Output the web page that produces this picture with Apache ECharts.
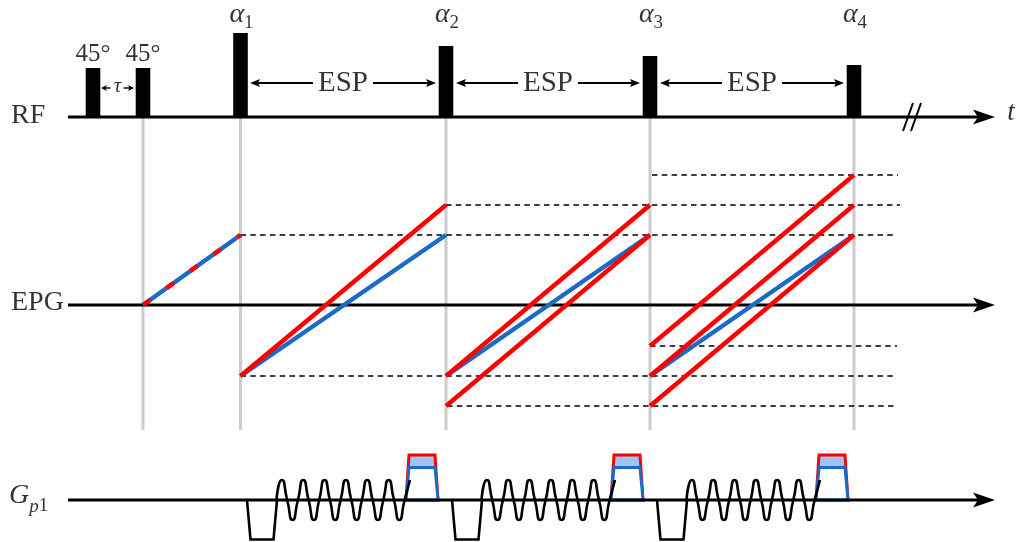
<!DOCTYPE html>
<html>
<head>
<meta charset="utf-8">
<script src="https://cdn.jsdelivr.net/npm/echarts/dist/echarts.min.js"></script>
<style>
html,body{margin:0;padding:0;background:#ffffff;}
#chart{width:1016px;height:542px;}
</style>
</head>
<body>
<div id="chart"></div>
<script>
// ===== Data (diagram coordinates: x = time position, y = vertical position, downward) =====
const rowNames   = ['RF', 'EPG', 'G'];
const rowNameSub = ['', '', 'p1'];
const rowY       = [117, 305, 500];
const axisStartX = 68;
const axisEndX   = 995;
const timeLabel  = 't';

const pulseX        = [93, 143, 240.5, 446, 650, 854];
const pulseTop      = [68, 68, 33, 46, 56, 65];
const pulseLabel    = ['45°', '45°', 'α', 'α', 'α', 'α'];
const pulseLabelSub = ['', '', '1', '2', '3', '4'];

const tauLabel = 'τ';
const tauSpan  = [101, 134];
const tauY     = 88;

const espLabel = 'ESP';
const espY     = 83;
const espSpans = [[250, 436], [456, 640], [660, 844]];

const breakMarks = [[[903, 131], [913, 103]], [[911, 131], [921, 103]]];

const guideX      = [143, 240.5, 446, 650, 854];
const guideBottom = 430;

// EPG paths
const epgFirst = [[143, 305], [240.5, 235]];
const epgBlue = [
  [[240.5, 376], [446, 235]],
  [[446, 376], [650, 235]],
  [[650, 376], [854, 235]]
];
const epgRed = [
  [[240.5, 376], [446, 205]],
  [[446, 376], [650, 205]],
  [[446, 406], [650, 235]],
  [[650, 346], [854, 175]],
  [[650, 376], [854, 205]],
  [[650, 406], [854, 235]]
];
const epgLevels = [ // [y, xStart, xEnd]
  [235, 240.5, 897], [205, 446, 900], [175, 652, 898],
  [376, 240.5, 897], [406, 447, 897], [346, 650, 897]
];

// Gradient waveform (one echo spacing, offsets from lobe start)
const gradLobeStart = [247, 452, 657];
const lobeDX = [0, 3.5, 26.5, 30];
const lobeY  = [500, 539.5, 539.5, 500];
const waveDX = [29.5, 34.8, 40.2, 45.5, 50.9, 56.2, 61.6, 66.9, 72.2, 77.5, 82.9, 88.2, 93.6,
                98.9, 104.3, 109.6, 114.9, 120.2, 125.6, 130.9, 136.3, 141.6, 147.0, 152.3, 157.6, 163.0];
const waveY  = [500, 480, 500, 520, 500, 480, 500, 520, 500, 480, 500, 520, 500,
                480, 500, 520, 500, 480, 500, 520, 500, 480, 500, 520, 500, 480];
const trapDX    = [159, 162, 188, 191];
const trapRedY  = [500, 455, 455, 500];
const trapBlueY = [500, 467.5, 467.5, 500];

// ===== Rendering =====
const SERIF = 'Liberation Serif';
const BLUE = '#1b6ac6', RED = '#ff0000', GRAY = '#cccccc', FILL = '#9dc3ee';
const series = [];
const line = (pts, ls, extra) => series.push(Object.assign({
  type: 'line', data: pts, symbol: 'none', showSymbol: false, silent: true,
  animation: false, lineStyle: ls
}, extra || {}));

function arrowSeries(data, L, W, notch) {
  return {
    type: 'custom', data: data, silent: true, animation: false,
    renderItem: function (params, api) {
      const t = api.coord([api.value(0), api.value(1)]);
      const d = api.value(2);
      return {
        type: 'polygon',
        shape: { points: [[t[0], t[1]], [t[0] - d * L, t[1] - W], [t[0] - d * (L - notch), t[1]], [t[0] - d * L, t[1] + W]] },
        style: { fill: '#000' }
      };
    }
  };
}

// guides
guideX.forEach(x => line([[x, rowY[0]], [x, guideBottom]], { color: GRAY, width: 3 }));
// dashed levels
epgLevels.forEach(([y, a, b]) => line([[a, y], [b, y]], { color: '#000', width: 1.6, type: [5.5, 4.3] }));
// gradient lobes + waves
gradLobeStart.forEach(L => {
  line(lobeDX.map((d, i) => [L + d, lobeY[i]]), { color: '#000', width: 2.6, join: 'miter' });
  line(waveDX.map((d, i) => [L + d, waveY[i]]), { color: '#000', width: 2.6 }, { smooth: 0.7 });
});
const trapShapes = [];
gradLobeStart.forEach(L => {
  trapShapes.push({ pts: trapDX.map((d, i) => [L + d, trapRedY[i]]), fill: FILL, stroke: RED });
  trapShapes.push({ pts: trapDX.map((d, i) => [L + d, trapBlueY[i]]), fill: '#ffffff', stroke: BLUE });
});
series.push({
  type: 'custom', silent: true, animation: false, data: trapShapes.map(s => s.pts[0]),
  renderItem: function (params, api) {
    const s = trapShapes[params.dataIndex];
    return { type: 'polygon', shape: { points: s.pts.map(p => api.coord(p)) },
      style: { fill: s.fill, stroke: s.stroke, lineWidth: 3, lineJoin: 'miter' } };
  }
});
// axes
rowY.forEach(y => line([[axisStartX, y], [axisEndX - 12, y]], { color: '#000', width: 3 }));
series.push(arrowSeries(rowY.map(y => [axisEndX, y, 1]), 22, 7.5, 5));
breakMarks.forEach(m => line(m, { color: '#000', width: 2 }));
// EPG
line(epgFirst, { color: BLUE, width: 4.5 });
line(epgFirst, { color: RED, width: 4.5, type: [9, 20] });
epgBlue.forEach(s => line(s, { color: BLUE, width: 4.5 }));
epgRed.forEach(s => line(s, { color: RED, width: 4.5 }));
// RF pulses
series.push({
  type: 'custom', silent: true, animation: false,
  data: pulseX.map((x, i) => [x, pulseTop[i]]),
  renderItem: function (params, api) {
    const top = api.coord([api.value(0), api.value(1)]);
    const bot = api.coord([api.value(0), rowY[0]]);
    return { type: 'rect', shape: { x: top[0] - 7.3, y: top[1], width: 14.6, height: bot[1] - top[1] }, style: { fill: '#000' } };
  }
});
// ESP arrows
const espArrowTips = [];
espSpans.forEach(([a, b]) => {
  const m = (a + b) / 2;
  line([[a + 5, espY], [m - 30, espY]], { color: '#000', width: 2 });
  line([[m + 30, espY], [b - 5, espY]], { color: '#000', width: 2 });
  espArrowTips.push([a, espY, -1], [b, espY, 1]);
});
series.push(arrowSeries(espArrowTips, 10, 4, 2));
// tau arrows
const tauMid = (tauSpan[0] + tauSpan[1]) / 2;
line([[tauSpan[0] + 3, tauY], [tauMid - 7, tauY]], { color: '#000', width: 1.4 });
line([[tauMid + 6, tauY], [tauSpan[1] - 3, tauY]], { color: '#000', width: 1.4 });
series.push(arrowSeries([[tauSpan[0], tauY, -1], [tauSpan[1], tauY, 1]], 6, 3, 1.5));

// texts
const texts = [];
const addText = (x, y, str, label) => texts.push({ value: [x, y], label: Object.assign({ show: true, color: '#000', fontFamily: SERIF, formatter: () => str }, label) });
const subRich = {
  m: { fontFamily: SERIF, fontSize: 28, fontStyle: 'italic', color: '#000', padding: [0, 0, 4, 0], verticalAlign: 'bottom' },
  g: { fontFamily: SERIF, fontSize: 28, fontStyle: 'italic', color: '#000', padding: [0, 0, 6, 0], verticalAlign: 'bottom' },
  si: { fontFamily: SERIF, fontSize: 19, fontStyle: 'italic', color: '#000', verticalAlign: 'bottom' },
  s: { fontFamily: SERIF, fontSize: 19, color: '#000', verticalAlign: 'bottom' }
};
addText(11, 116, rowNames[0], { align: 'left', fontSize: 28 });
addText(11, 303, rowNames[1], { align: 'left', fontSize: 28 });
addText(9, 499, '{g|' + rowNames[2] + '}{si|' + rowNameSub[2][0] + '}{s|' + rowNameSub[2].slice(1) + '}', { align: 'left', rich: subRich });
pulseX.forEach((x, i) => {
  if (pulseLabelSub[i]) addText(x + 1, 17, '{m|' + pulseLabel[i] + '}{s|' + pulseLabelSub[i] + '}', { rich: subRich });
  else addText(x, 54, pulseLabel[i], { fontSize: 25 });
});
espSpans.forEach(([a, b]) => addText((a + b) / 2, espY, espLabel, { fontSize: 29 }));
addText(tauMid, tauY - 2, tauLabel, { fontSize: 21, fontStyle: 'italic' });
addText(1011, 113, timeLabel, { fontSize: 27, fontStyle: 'italic' });
series.push({
  type: 'scatter', symbolSize: 0, data: texts, silent: true, animation: false,
  label: { position: 'inside', color: '#000', fontFamily: SERIF }
});

const chart = echarts.init(document.getElementById('chart'));
chart.setOption({
  animation: false,
  backgroundColor: '#ffffff',
  textStyle: { fontFamily: SERIF },
  grid: { left: 0, right: 0, top: 0, bottom: 0 },
  xAxis: { type: 'value', min: 0, max: 1016, show: false },
  yAxis: { type: 'value', min: 0, max: 542, inverse: true, show: false },
  series: series
});
</script>
</body>
</html>
